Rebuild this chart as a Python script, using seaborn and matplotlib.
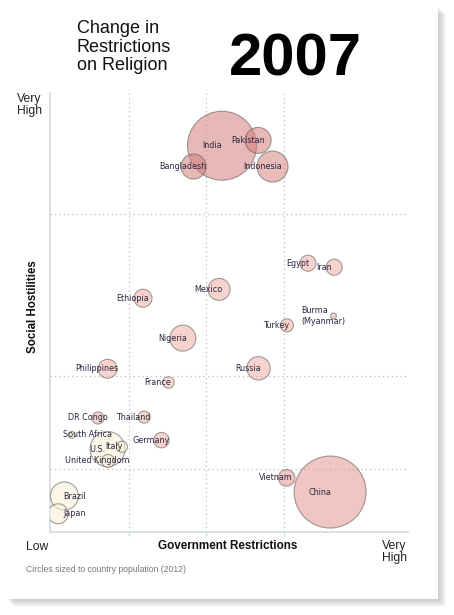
import pandas as pd
import matplotlib.pyplot as plt
import seaborn as sns
from matplotlib.patches import Rectangle
from matplotlib.colors import LinearSegmentedColormap

# values (indices 0-10, population in millions)
countries = ["India", "Pakistan", "Bangladesh", "Indonesia", "Egypt", "Iran",
             "Mexico", "Ethiopia", "Burma\n(Myanmar)", "Turkey", "Nigeria",
             "Philippines", "Russia", "France", "DR Congo", "Thailand",
             "South Africa", "Germany", "U.S.", "Italy", "United Kingdom",
             "Vietnam", "China", "Brazil", "Japan"]
gov_restrictions = [4.87, 5.85, 4.10, 6.24, 7.20, 7.91,
                    4.79, 2.73, 7.89, 6.63, 3.81,
                    1.77, 5.86, 3.42, 1.51, 2.76,
                    0.80, 3.23, 1.77, 2.16, 1.78,
                    6.62, 7.80, 0.60, 0.43]
social_hostilities = [8.75, 8.87, 8.28, 8.28, 6.10, 6.01,
                      5.51, 5.31, 4.91, 4.70, 4.41,
                      3.72, 3.73, 3.41, 2.61, 2.63,
                      2.23, 2.11, 1.91, 1.96, 1.64,
                      1.26, 0.94, 0.85, 0.45]
population = [1240, 176, 163, 250, 67, 67,
              126, 84, 9, 44, 176,
              94, 143, 34, 38, 38,
              13, 62, 319, 32, 44,
              72, 1350, 205, 104]
change = [1.0, 1.0, 1.0, 0.95, 0.5, 0.5,
          0.5, 0.5, 0.5, 0.5, 0.5,
          0.5, 0.5, 0.4, 0.45, 0.45,
          0.0, 0.5, 0.0, 0.0, 0.0,
          0.75, 0.75, 0.0, 0.0]

gri_bounds = [2.35, 4.45, 6.55]
shi_bounds = [1.45, 3.55, 7.2]

df = pd.DataFrame({"country": countries, "gri": gov_restrictions,
                   "shi": social_hostilities, "pop": population,
                   "change": change})

sns.set_style("white")
plt.rcParams['font.family'] = ['Liberation Sans', 'DejaVu Sans']

W, H = 454, 615
fig = plt.figure(figsize=(W / 100, H / 100), dpi=100)


def box(x0, y0, x1, y1, **kw):
    # pixel box (from top-left) -> figure rectangle
    return Rectangle((x0 / W, 1 - y1 / H), (x1 - x0) / W, (y1 - y0) / H,
                     transform=fig.transFigure, **kw)


# card with soft shadow
for k in range(1, 9):
    fig.patches.append(box(6 + k, 6 + k, 438 + k, 599 + k, facecolor="#888888",
                           edgecolor="none", alpha=0.06, zorder=-20))
fig.patches.append(box(3, 3, 438, 599, facecolor="white", edgecolor="none", zorder=-10))

ax = fig.add_axes([50 / W, 1 - 531.5 / H, 358 / W, 439 / H])
ax.set_facecolor("none")

cmap = LinearSegmentedColormap.from_list("chg", ["#faf0d4", "#efb1a4", "#d5807a"])
smax = (2 * 36 * 0.72) ** 2
sns.scatterplot(data=df, x="gri", y="shi", size="pop", sizes=(0, smax),
                size_norm=(0, 1350), hue="change", palette=cmap, hue_norm=(0, 1),
                alpha=0.55, edgecolor="#555555", linewidth=0.8, legend=False,
                ax=ax, zorder=3)

for v in gri_bounds:
    ax.axvline(v, color="#bdbdbd", lw=0.9, ls=(0, (1, 2.5)), zorder=1)
for v in shi_bounds:
    ax.axhline(v, color="#bdbdbd", lw=0.9, ls=(0, (1, 2.5)), zorder=1)

ax.set_xlim(0.21, 9.91)
ax.set_ylim(0.05, 9.95)
ax.set_xticks(gri_bounds)
ax.set_xticklabels([])
ax.set_yticks([])
ax.tick_params(axis="x", bottom=True, length=3, width=1, color="#d3dbe5")
ax.set_xlabel("")
ax.set_ylabel("")
ax.spines[["top", "right"]].set_visible(False)
for s in ["left", "bottom"]:
    ax.spines[s].set_color("#d3dbe5")
    ax.spines[s].set_linewidth(1.2)

labels = []
for _, r in df.iterrows():
    t = ax.annotate(r["country"], (r["gri"], r["shi"]), xytext=(-7.5, 0),
                    textcoords="offset points", ha="center", va="center",
                    ma="left", fontsize=5.8, color="#2b2540",
                    family="DejaVu Sans", zorder=5)
    labels.append(t)

# keep labels clear of the left axis
fig.canvas.draw()
renderer = fig.canvas.get_renderer()
for t in labels:
    bb = t.get_window_extent(renderer)
    if bb.x0 < 63:
        dx, dy = t.xyann
        t.xyann = (dx + (63 - bb.x0) * 0.72, dy)

# labels on the same line that collide: push the right one over
fig.canvas.draw()
for a in labels:
    for b in labels:
        if a is b:
            continue
        ba, bb = a.get_window_extent(renderer), b.get_window_extent(renderer)
        if ba.x0 < bb.x0 < ba.x1 and abs(ba.y0 - bb.y0) < 4:
            dx, dy = b.xyann
            b.xyann = (dx + (ba.x1 - bb.x0 + 0.5) * 0.72, dy)

# titles and axis text
fig.text(77 / W, 1 - 20 / H, "Change in\nRestrictions\non Religion", fontsize=13,
         va="top", ha="left", color="#111111", linespacing=1.12)
fig.text(295 / W, 1 - 75 / H, "2007", fontsize=43, fontweight="bold",
         va="baseline", ha="center", color="black")
fig.text(42 / W, 1 - 93 / H, "Very\nHigh", fontsize=8.7, va="top", ha="right",
         ma="left", color="#222222", linespacing=1.05)
fig.text(33 / W, 1 - 307 / H, "Social Hostilities", fontsize=8.3, fontweight="bold",
         rotation=90, va="center", ha="center", color="#111111")
fig.text(26 / W, 1 - 547 / H, "Low", fontsize=8.7, va="center", ha="left", color="#222222")
fig.text(227.5 / W, 1 - 546 / H, "Government Restrictions", fontsize=8.4,
         fontweight="bold", va="center", ha="center", color="#111111")
fig.text(407 / W, 1 - 540 / H, "Very\nHigh", fontsize=8.7, va="top", ha="right",
         ma="left", color="#222222", linespacing=1.05)
fig.text(26 / W, 1 - 570 / H, "Circles sized to country population (2012)", fontsize=6.2,
         va="center", ha="left", color="#777777")

fig.savefig("out.png", dpi=100)
